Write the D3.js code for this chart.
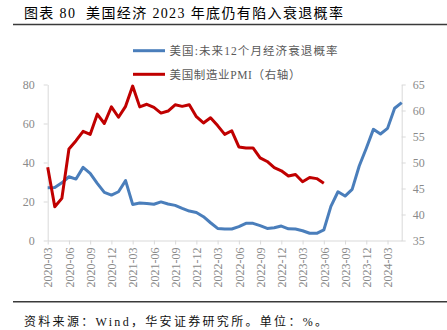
<!DOCTYPE html>
<html><head><meta charset="utf-8">
<script src="https://cdn.jsdelivr.net/npm/d3@7"></script>
<style>
html,body{margin:0;padding:0;background:#fff;}
svg{display:block;}
</style></head>
<body>
<svg id="c" width="447" height="330"></svg>
<script>
const months = [
 "2020-03","2020-04","2020-05","2020-06","2020-07","2020-08","2020-09","2020-10","2020-11","2020-12",
 "2021-01","2021-02","2021-03","2021-04","2021-05","2021-06","2021-07","2021-08","2021-09","2021-10","2021-11","2021-12",
 "2022-01","2022-02","2022-03","2022-04","2022-05","2022-06","2022-07","2022-08","2022-09","2022-10","2022-11","2022-12",
 "2023-01","2023-02","2023-03","2023-04","2023-05","2023-06","2023-07","2023-08","2023-09","2023-10","2023-11","2023-12",
 "2024-01","2024-02","2024-03","2024-04","2024-05"];
const recessionProb = [
 27.1,27.2,29.6,32.7,31.5,37.5,34.4,29.3,24.7,23.3,
 25.0,30.7,18.5,19.2,19.0,18.6,19.8,18.7,18.0,16.5,15.1,14.4,
 12.2,9.1,6.2,5.9,5.9,7.1,8.8,8.8,7.6,6.2,6.5,7.4,
 6.0,5.9,5.0,3.7,3.7,5.4,17.5,25.0,22.8,26.2,38.2,47.3,
 57.0,54.6,57.5,67.8,70.7];
const pmi = [
 49.1,41.5,43.1,52.6,54.2,56.0,55.4,59.3,57.5,60.7,
 58.7,60.8,64.7,60.7,61.2,60.6,59.5,59.9,61.1,60.8,61.1,58.8,
 57.6,58.6,57.1,55.4,56.1,53.0,52.8,52.8,50.9,50.2,49.0,48.4,
 47.4,47.7,46.3,47.1,46.9,46.0];
const xTickLabels = ["2020-03","2020-06","2020-09","2020-12","2021-03","2021-06","2021-09","2021-12",
 "2022-03","2022-06","2022-09","2022-12","2023-03","2023-06","2023-09","2023-12","2024-03"];
const leftTicks = [0,20,40,60,80];
const rightTicks = [35,40,45,50,55,60,65];
const seriesNames = ["美国:未来12个月经济衰退概率","美国制造业PMI（右轴）"];
const titleText = "图表 80  美国经济 2023 年底仍有陷入衰退概率";
const sourceText = "资料来源：Wind，华安证券研究所。单位：%。";

const svg = d3.select("#c");
const L = 47.7, R = 401.7, T = 84.5, B = 240.5;
const x = d3.scalePoint().domain(months).range([L, R]);
const yL = d3.scaleLinear().domain([0, 80]).range([B, T]);
const yR = d3.scaleLinear().domain([35, 65]).range([B, T]);
const serif = "'Liberation Serif','Noto Sans CJK SC',serif";
const axisColor = "#d9d9d9", labelColor = "#8a8a8a";

// fit text to a target width using letter-spacing
function fitText(sel, target) {
  const node = sel.node();
  const w = node.getComputedTextLength();
  const n = [...sel.text()].length;
  if (n > 1) sel.attr("letter-spacing", ((target - w) / (n - 1)).toFixed(3));
}

// title & rules
const title = svg.append("text").attr("x", 24).attr("y", 17.5).attr("font-family", serif)
  .attr("font-size", 14).attr("fill", "#000")
  .style("white-space", "pre").text(titleText);
fitText(title, 319);
svg.append("line").attr("x1", 13).attr("x2", 447).attr("y1", 24.5).attr("y2", 24.5)
  .attr("stroke", "#3a3a3a").attr("stroke-width", 1.4);
svg.append("line").attr("x1", 13).attr("x2", 447).attr("y1", 301.8).attr("y2", 301.8)
  .attr("stroke", "#3a3a3a").attr("stroke-width", 1.4);
const src = svg.append("text").attr("x", 24).attr("y", 325.5).attr("font-family", serif)
  .attr("font-size", 12).attr("fill", "#111").text(sourceText);
fitText(src, 303);

function styleAxis(g) {
  g.selectAll("path,line").attr("stroke", axisColor).attr("stroke-width", 1);
  g.selectAll("text").attr("fill", labelColor).attr("font-family", serif).attr("font-size", 12);
}

// left axis
const gl = svg.append("g").attr("transform", `translate(${L},0)`)
  .call(d3.axisLeft(yL).tickValues(leftTicks).tickSize(4).tickSizeOuter(0).tickPadding(9));
styleAxis(gl);
// right axis
const gr = svg.append("g").attr("transform", `translate(${R},0)`)
  .call(d3.axisRight(yR).tickValues(rightTicks).tickSize(4).tickSizeOuter(0).tickPadding(7));
styleAxis(gr);
// bottom axis
const gb = svg.append("g").attr("transform", `translate(0,${B})`)
  .call(d3.axisBottom(x).tickValues(xTickLabels).tickSize(4).tickSizeOuter(0).tickPadding(6));
styleAxis(gb);
gb.selectAll(".tick text").attr("text-anchor", "end")
  .attr("transform", "translate(0,7) rotate(-90)").attr("x", 0).attr("y", 0).attr("dy", "0.35em");

// lines
const lineL = d3.line().x((d, i) => x(months[i])).y(d => yL(d));
const lineR = d3.line().x((d, i) => x(months[i])).y(d => yR(d));
svg.append("path").datum(recessionProb).attr("d", lineL).attr("fill", "none")
  .attr("stroke", "#4a7ebb").attr("stroke-width", 3).attr("stroke-linejoin", "round");
svg.append("path").datum(pmi).attr("d", lineR).attr("fill", "none")
  .attr("stroke", "#c00000").attr("stroke-width", 3).attr("stroke-linejoin", "round");

// legend
const legend = [
  {name: seriesNames[0], color: "#4a7ebb", y: 50.7, len: 168},
  {name: seriesNames[1], color: "#c00000", y: 74.3, len: 131}
];
legend.forEach(d => {
  svg.append("line").attr("x1", 133).attr("x2", 165).attr("y1", d.y).attr("y2", d.y)
    .attr("stroke", d.color).attr("stroke-width", 3);
  const t = svg.append("text").attr("x", 169.5).attr("y", d.y + 4.3).attr("font-family", serif)
    .attr("font-size", 11.5).attr("fill", "#595959").text(d.name);
  fitText(t, d.len);
});
</script>
</body></html>
